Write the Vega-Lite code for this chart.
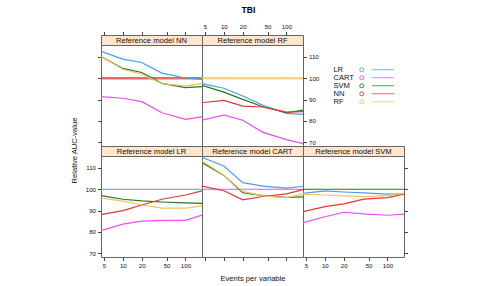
{
  "$schema": "https://vega.github.io/schema/vega-lite/v6.json",
  "padding": {"left": 70, "top": 6, "right": 5, "bottom": 4},
  "title": {"text": "TBI", "fontSize": 8.5, "fontWeight": "bold", "color": "#000", "anchor": "middle", "offset": 8, "dx": 9},
  "config": {
    "font": "Liberation Sans",
    "view": {"stroke": "#666"},
    "axis": {
      "domain": false, "grid": false, "tickColor": "#444", "tickSize": 3.5, "tickWidth": 1,
      "labelFontSize": 6.1, "labelColor": "#111", "labelPadding": 2,
      "titleFontSize": 7.6, "titleFontWeight": "normal", "titleColor": "#111"
    }
  },
  "datasets": {
    "auc": [
      {"panel": "NN", "epv": 4.47, "LR": 112.6, "CART": 91.4, "SVM": 110.2, "NN": 100, "RF": 110.2},
      {"panel": "NN", "epv": 10, "LR": 109.0, "CART": 90.6, "SVM": 104.6, "NN": 100, "RF": 104.2},
      {"panel": "NN", "epv": 20, "LR": 107.4, "CART": 89.0, "SVM": 102.7, "NN": 100, "RF": 101.9},
      {"panel": "NN", "epv": 42, "LR": 102.4, "CART": 83.8, "SVM": 97.6, "NN": 100, "RF": 97.5},
      {"panel": "NN", "epv": 100, "LR": 100.1, "CART": 80.7, "SVM": 95.6, "NN": 100, "RF": 96.4},
      {"panel": "NN", "epv": 184, "LR": 99.5, "CART": 81.9, "SVM": 96.1, "NN": 100, "RF": 97.5},
      {"panel": "RF", "epv": 4.47, "LR": 97.5, "CART": 80.3, "SVM": 96.7, "NN": 88.5, "RF": 100},
      {"panel": "RF", "epv": 10, "LR": 95.3, "CART": 82.7, "SVM": 93.5, "NN": 89.6, "RF": 100},
      {"panel": "RF", "epv": 20, "LR": 91.7, "CART": 80.3, "SVM": 90.1, "NN": 86.9, "RF": 100},
      {"panel": "RF", "epv": 42, "LR": 87.3, "CART": 74.6, "SVM": 86.6, "NN": 86.5, "RF": 100},
      {"panel": "RF", "epv": 100, "LR": 83.5, "CART": 71.2, "SVM": 83.8, "NN": 84.1, "RF": 100},
      {"panel": "RF", "epv": 184, "LR": 83.0, "CART": 69.3, "SVM": 85.0, "NN": 84.3, "RF": 100},
      {"panel": "LR", "epv": 4.47, "LR": 100, "CART": 80.6, "SVM": 97.0, "NN": 88.1, "RF": 95.9},
      {"panel": "LR", "epv": 10, "LR": 100, "CART": 83.6, "SVM": 95.3, "NN": 90.0, "RF": 94.4},
      {"panel": "LR", "epv": 20, "LR": 100, "CART": 85.0, "SVM": 94.5, "NN": 92.6, "RF": 92.6},
      {"panel": "LR", "epv": 42, "LR": 100, "CART": 85.4, "SVM": 94.0, "NN": 95.3, "RF": 91.1},
      {"panel": "LR", "epv": 100, "LR": 100, "CART": 85.4, "SVM": 93.6, "NN": 97.3, "RF": 91.1},
      {"panel": "LR", "epv": 184, "LR": 100, "CART": 87.9, "SVM": 93.4, "NN": 99.2, "RF": 92.2},
      {"panel": "CART", "epv": 4.47, "LR": 115.0, "CART": 100, "SVM": 112.5, "NN": 101.5, "RF": 113.3},
      {"panel": "CART", "epv": 10, "LR": 110.9, "CART": 100, "SVM": 106.5, "NN": 99.3, "RF": 106.6},
      {"panel": "CART", "epv": 20, "LR": 103.1, "CART": 100, "SVM": 98.4, "NN": 95.0, "RF": 99.0},
      {"panel": "CART", "epv": 42, "LR": 101.5, "CART": 100, "SVM": 97.0, "NN": 96.6, "RF": 96.9},
      {"panel": "CART", "epv": 100, "LR": 100.5, "CART": 100, "SVM": 96.2, "NN": 97.8, "RF": 96.1},
      {"panel": "CART", "epv": 184, "LR": 101.4, "CART": 100, "SVM": 96.4, "NN": 99.8, "RF": 97.7},
      {"panel": "SVM", "epv": 4.47, "LR": 98.1, "CART": 84.3, "SVM": 100, "NN": 89.5, "RF": 97.7},
      {"panel": "SVM", "epv": 10, "LR": 99.2, "CART": 87.1, "SVM": 100, "NN": 91.8, "RF": 97.3},
      {"panel": "SVM", "epv": 20, "LR": 98.7, "CART": 89.2, "SVM": 100, "NN": 93.1, "RF": 96.9},
      {"panel": "SVM", "epv": 42, "LR": 98.3, "CART": 88.4, "SVM": 100, "NN": 95.4, "RF": 96.5},
      {"panel": "SVM", "epv": 100, "LR": 97.7, "CART": 87.8, "SVM": 100, "NN": 96.1, "RF": 97.0},
      {"panel": "SVM", "epv": 184, "LR": 97.8, "CART": 88.3, "SVM": 100, "NN": 97.7, "RF": 98.1}
    ]
  },
  "resolve": {"scale": {"x": "independent", "y": "independent"}},
  "columns": 3,
  "spacing": 0,
  "bounds": "flush",
  "concat": [
    {
      "width": 101, "height": 10,
      "view": {"fill": "#FFE5CC", "stroke": "#666"},
      "data": {"values": [{"label": "Reference model NN"}]},
      "mark": {"type": "text", "fontSize": 7.6, "color": "#111", "baseline": "middle", "dy": 0.5},
      "encoding": {"text": {"field": "label", "type": "nominal"}}
    },
    {
      "width": 101, "height": 10,
      "view": {"fill": "#FFE5CC", "stroke": "#666"},
      "data": {"values": [{"label": "Reference model RF"}]},
      "mark": {"type": "text", "fontSize": 7.6, "color": "#111", "baseline": "middle", "dy": 0.5},
      "encoding": {"text": {"field": "label", "type": "nominal"}}
    },
    {
      "width": 101, "height": 10,
      "view": {"stroke": null},
      "data": {"values": []},
      "mark": {"type": "text"}
    },
    {
      "width": 101, "height": 101,
      "view": {"fill": "white", "stroke": "#666"},
      "data": {"name": "auc"},
      "transform": [
        {"filter": "datum.panel === 'NN'"},
        {"fold": ["LR", "CART", "SVM", "NN", "RF"], "as": ["model", "auc"]}
      ],
      "encoding": {
        "x": {"field": "epv", "type": "quantitative",
              "scale": {"type": "log", "domain": [4.47, 184], "nice": false},
              "axis": {"orient": "top", "offset": 10, "values": [5, 10, 20, 50, 100], "labels": false, "title": null}},
        "y": {"field": "auc", "type": "quantitative",
              "scale": {"domain": [68.2, 115.6], "nice": false, "zero": false},
              "axis": {"orient": "left", "values": [70, 80, 90, 100, 110], "labels": false, "title": null}},
        "color": {"field": "model", "type": "nominal",
                  "scale": {"domain": ["LR", "CART", "SVM", "NN", "RF"], "range": ["#4A9DE8", "#F04CF0", "#237A23", "#E53535", "#F5C25E"]},
                  "legend": {"title": null, "orient": "none", "legendX": 257, "legendY": 31,
                             "symbolType": "M-1.333,0A1.333,1.333,0,1,0,1.333,0A1.333,1.333,0,1,0,-1.333,0M6.867,0L21.533,0",
                             "symbolSize": 9, "symbolStrokeWidth": 1.1, "labelOffset": -32.2,
                             "labelFontSize": 7.6, "labelColor": "#111", "rowPadding": -1.75, "labelLimit": 100}}
      },
      "layer": [
        {"transform": [{"filter": "datum.model === 'NN'"}], "mark": {"type": "line", "strokeWidth": 2.6, "opacity": 0.75, "clip": true}},
        {"transform": [{"filter": "datum.model !== 'NN'"}], "mark": {"type": "line", "strokeWidth": 1.2, "clip": true}}
      ]
    },
    {
      "width": 101, "height": 101,
      "view": {"fill": "white", "stroke": "#666"},
      "data": {"name": "auc"},
      "transform": [
        {"filter": "datum.panel === 'RF'"},
        {"fold": ["LR", "CART", "SVM", "NN", "RF"], "as": ["model", "auc"]}
      ],
      "encoding": {
        "x": {"field": "epv", "type": "quantitative",
              "scale": {"type": "log", "domain": [4.47, 184], "nice": false},
              "axis": {"orient": "top", "offset": 10, "values": [5, 10, 20, 50, 100], "format": "d", "title": null, "labelPadding": 2.5}},
        "y": {"field": "auc", "type": "quantitative",
              "scale": {"domain": [68.2, 115.6], "nice": false, "zero": false},
              "axis": {"orient": "right", "values": [70, 80, 90, 100, 110], "title": null}},
        "color": {"field": "model", "type": "nominal"}
      },
      "layer": [
        {"transform": [{"filter": "datum.model === 'RF'"}], "mark": {"type": "line", "strokeWidth": 2.6, "opacity": 0.75, "clip": true}},
        {"transform": [{"filter": "datum.model !== 'RF'"}], "mark": {"type": "line", "strokeWidth": 1.2, "clip": true}}
      ]
    },
    {
      "width": 101, "height": 101,
      "view": {"stroke": null},
      "data": {"values": []},
      "mark": {"type": "text"}
    },
    {
      "width": 101, "height": 10,
      "view": {"fill": "#FFE5CC", "stroke": "#666"},
      "data": {"values": [{"label": "Reference model LR"}]},
      "mark": {"type": "text", "fontSize": 7.6, "color": "#111", "baseline": "middle", "dy": 0.5},
      "encoding": {"text": {"field": "label", "type": "nominal"}}
    },
    {
      "width": 101, "height": 10,
      "view": {"fill": "#FFE5CC", "stroke": "#666"},
      "data": {"values": [{"label": "Reference model CART"}]},
      "mark": {"type": "text", "fontSize": 7.6, "color": "#111", "baseline": "middle", "dy": 0.5},
      "encoding": {"text": {"field": "label", "type": "nominal"}}
    },
    {
      "width": 101, "height": 10,
      "view": {"fill": "#FFE5CC", "stroke": "#666"},
      "data": {"values": [{"label": "Reference model SVM"}]},
      "mark": {"type": "text", "fontSize": 7.6, "color": "#111", "baseline": "middle", "dy": 0.5},
      "encoding": {"text": {"field": "label", "type": "nominal"}}
    },
    {
      "width": 101, "height": 101,
      "view": {"fill": "white", "stroke": "#666"},
      "data": {"name": "auc"},
      "transform": [
        {"filter": "datum.panel === 'LR'"},
        {"fold": ["LR", "CART", "SVM", "NN", "RF"], "as": ["model", "auc"]}
      ],
      "mark": {"type": "line", "strokeWidth": 1.2, "clip": true},
      "encoding": {
        "x": {"field": "epv", "type": "quantitative",
              "scale": {"type": "log", "domain": [4.47, 184], "nice": false},
              "axis": {"orient": "bottom", "values": [5, 10, 20, 50, 100], "format": "d", "title": null}},
        "y": {"field": "auc", "type": "quantitative",
              "scale": {"domain": [68.2, 115.6], "nice": false, "zero": false},
              "axis": {"orient": "left", "values": [70, 80, 90, 100, 110], "title": "Relative AUC-value", "titleAlign": "center", "titleY": -6, "titlePadding": 6.5}},
        "color": {"field": "model", "type": "nominal"}
      }
    },
    {
      "width": 101, "height": 101,
      "view": {"fill": "white", "stroke": "#666"},
      "data": {"name": "auc"},
      "transform": [
        {"filter": "datum.panel === 'CART'"},
        {"fold": ["LR", "CART", "SVM", "NN", "RF"], "as": ["model", "auc"]}
      ],
      "mark": {"type": "line", "strokeWidth": 1.2, "clip": true},
      "encoding": {
        "x": {"field": "epv", "type": "quantitative",
              "scale": {"type": "log", "domain": [4.47, 184], "nice": false},
              "axis": {"orient": "bottom", "values": [5, 10, 20, 50, 100], "labels": false, "title": "Events per variable", "titlePadding": 13}},
        "y": {"field": "auc", "type": "quantitative",
              "scale": {"domain": [68.2, 115.6], "nice": false, "zero": false},
              "axis": null},
        "color": {"field": "model", "type": "nominal"}
      }
    },
    {
      "width": 101, "height": 101,
      "view": {"fill": "white", "stroke": "#666"},
      "data": {"name": "auc"},
      "transform": [
        {"filter": "datum.panel === 'SVM'"},
        {"fold": ["LR", "CART", "SVM", "NN", "RF"], "as": ["model", "auc"]}
      ],
      "mark": {"type": "line", "strokeWidth": 1.2, "clip": true},
      "encoding": {
        "x": {"field": "epv", "type": "quantitative",
              "scale": {"type": "log", "domain": [4.47, 184], "nice": false},
              "axis": {"orient": "bottom", "values": [5, 10, 20, 50, 100], "format": "d", "title": null}},
        "y": {"field": "auc", "type": "quantitative",
              "scale": {"domain": [68.2, 115.6], "nice": false, "zero": false},
              "axis": {"orient": "right", "values": [70, 80, 90, 100, 110], "labels": false, "title": null}},
        "color": {"field": "model", "type": "nominal"}
      }
    }
  ]
}
